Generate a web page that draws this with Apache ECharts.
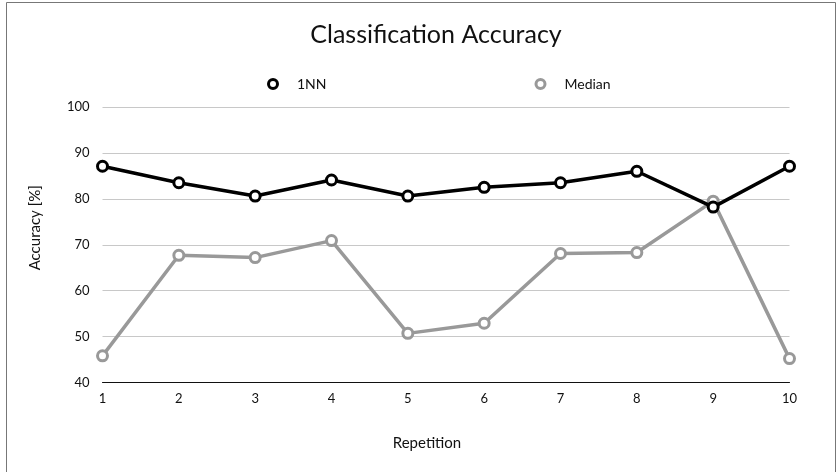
<!DOCTYPE html>
<html><head><meta charset="utf-8">
<script src="https://cdn.jsdelivr.net/npm/echarts@6/dist/echarts.min.js"></script>
<style>html,body{margin:0;padding:0;background:#fff}#c{width:838px;height:472px}</style>
</head><body><div id="c"></div>
<script>
const categories = ['1','2','3','4','5','6','7','8','9','10'];
const nn1 = [87.1, 83.5, 80.6, 84.1, 80.6, 82.5, 83.5, 86.0, 78.2, 87.1];
const median = [45.8, 67.7, 67.2, 70.9, 50.7, 52.9, 68.1, 68.3, 79.5, 45.2];
const yTicks = {min: 40, max: 100, interval: 10};
const FONT = 'Lato, "Open Sans", sans-serif';

const chart = echarts.init(document.getElementById('c'));
chart.setOption({
  animation: false,
  backgroundColor: '#fff',
  graphic: [{type:'rect', shape:{x:6.5,y:2.5,width:829,height:480}, style:{fill:'none', stroke:'#777', lineWidth:1}, z:-1}],
  title: {text:'Classification Accuracy', left: 431, textAlign:'center', top: 17,
    textStyle:{fontFamily:FONT, fontSize:25, fontWeight:'normal', color:'#111'}},
  legend: {left: 262, top: 72, itemWidth: 38, itemHeight: 9, itemGap: 208,
    textStyle:{fontFamily:FONT, fontSize:14, color:'#111'},
    data: [
      {name:'1NN', icon:'circle', itemStyle:{color:'#fff', borderColor:'#000', borderWidth:3}},
      {name:'Median', icon:'circle', itemStyle:{color:'#fff', borderColor:'#999', borderWidth:3}}
    ]},
  grid: {left: 102.5, right: 48.5, top: 107, bottom: 89.5},
  xAxis: {type:'category', data: categories, boundaryGap:false,
    name:'Repetition', nameLocation:'middle', nameGap: 53,
    nameTextStyle:{fontFamily:FONT, fontSize:15, color:'#111', padding:[0,38,0,0]},
    axisLine:{lineStyle:{color:'#111', width:1}}, axisTick:{show:false},
    axisLabel:{fontFamily:FONT, fontSize:13, color:'#111', margin:10}},
  yAxis: {type:'value', min:yTicks.min, max:yTicks.max, interval:yTicks.interval,
    name:'Accuracy [%]', nameLocation:'middle', nameGap: 60, nameRotate: 90,
    nameTextStyle:{fontFamily:FONT, fontSize:15, color:'#111', padding:[0,0,0,34]},
    axisLine:{show:false}, axisTick:{show:false},
    axisLabel:{fontFamily:FONT, fontSize:13, color:'#111', margin:13},
    splitLine:{lineStyle:{color:'#c8c8c8', width:1}}},
  series: [
    {name:'1NN', type:'line', data: nn1, symbol:'circle', symbolSize:10, z:3,
      lineStyle:{color:'#000', width:3.5}, itemStyle:{color:'#fff', borderColor:'#000', borderWidth:3}},
    {name:'Median', type:'line', data: median, symbol:'circle', symbolSize:10, z:2,
      lineStyle:{color:'#999', width:3.5}, itemStyle:{color:'#fff', borderColor:'#999', borderWidth:3}}
  ]
});
</script></body></html>
